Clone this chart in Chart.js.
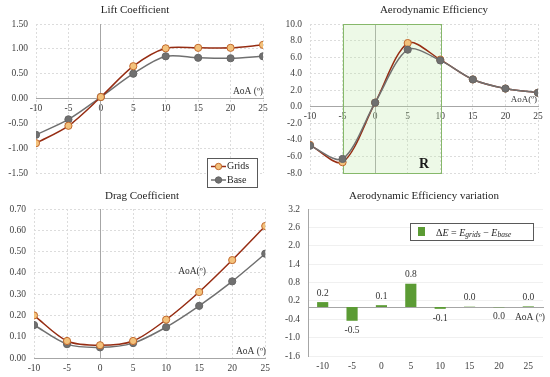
<!DOCTYPE html>
<html><head><meta charset="utf-8">
<script src="https://cdn.jsdelivr.net/npm/chart.js@4.4.1/dist/chart.umd.min.js"></script>
<style>
html,body{margin:0;padding:0;background:#fff;}
#wrap{position:relative;width:550px;height:377px;overflow:hidden;background:#fff;}
canvas{position:absolute;}
</style></head><body>
<div id="wrap">
<canvas id="c1" width="275" height="190" style="left:0;top:0"></canvas>
<canvas id="c2" width="275" height="190" style="left:275px;top:0"></canvas>
<canvas id="c3" width="275" height="187" style="left:0;top:190px"></canvas>
<canvas id="c4" width="275" height="187" style="left:275px;top:190px"></canvas>
</div>
<script>
// ---- data ----
const aoa = [-10, -5, 0, 5, 10, 15, 20, 25];
const aoaLabels = ['-10', '-5', '0', '5', '10', '15', '20', '25'];
const liftGrids = [-0.90, -0.55, 0.03, 0.65, 1.01, 1.02, 1.02, 1.08];
const liftBase  = [-0.73, -0.42, 0.03, 0.50, 0.85, 0.82, 0.81, 0.85];
const effGrids  = [-4.6, -6.7, 0.5, 7.7, 5.7, 3.3, 2.2, 1.7];
const effBase   = [-4.7, -6.3, 0.5, 6.9, 5.6, 3.3, 2.2, 1.7];
const dragGrids = [0.20, 0.08, 0.06, 0.08, 0.18, 0.31, 0.46, 0.62];
const dragBase  = [0.155, 0.065, 0.05, 0.07, 0.145, 0.245, 0.36, 0.49];
const deltaE    = [0.16, -0.45, 0.06, 0.76, -0.06, 0.01, -0.01, 0.02];
const regionR   = [-5, 10]; // shaded AoA range in efficiency chart

const SERIF = "'Liberation Serif','Times New Roman',serif";
Chart.defaults.font.family = SERIF;
Chart.defaults.font.size = 9.5;
Chart.defaults.color = '#404040';
Chart.defaults.animation = false;
Chart.defaults.responsive = false;
Chart.defaults.plugins.legend.display = false;
Chart.defaults.plugins.tooltip.enabled = false;

const GRID = '#dcdcdc';
const AXIS = '#a6a6a6';
const C_GRIDS_LINE = '#962c12';
const C_GRIDS_FILL = '#f3c27c';
const C_GRIDS_EDGE = '#c2682c';
const C_BASE = '#707070';

function texts(items) {
  return {
    id: 'texts',
    afterDraw(chart) {
      const ctx = chart.ctx;
      items.forEach(t => {
        ctx.save();
        ctx.font = t.font || `9.5px ${SERIF}`;
        ctx.fillStyle = t.color || '#333';
        ctx.textAlign = t.align || 'center';
        ctx.textBaseline = 'middle';
        ctx.fillText(t.text, t.x, t.y);
        ctx.restore();
      });
    }
  };
}
function title(text, x, y) {
  return {text, x, y, font: `11px ${SERIF}`, color: '#262626'};
}

function lineDS(label, ys, isGrids, order) {
  return {
    label,
    data: aoa.map((x, i) => ({x, y: ys[i]})),
    borderColor: isGrids ? C_GRIDS_LINE : C_BASE,
    borderWidth: 1.5,
    pointBackgroundColor: isGrids ? C_GRIDS_FILL : C_BASE,
    pointBorderColor: isGrids ? C_GRIDS_EDGE : '#666',
    pointBorderWidth: 1,
    pointRadius: 3.6,
    tension: 0.3,
    order
  };
}

function xLinear(pos, extra) {
  return Object.assign({
    type: 'linear', min: -10, max: 25, position: pos,
    ticks: {stepSize: 5, padding: 4, color: '#404040'},
    grid: {color: GRID, drawTicks: false},
    border: {color: AXIS, dash: [2, 2]}
  }, extra || {});
}
function yLinear(min, max, step, dec, width) {
  return {
    min, max,
    ticks: {stepSize: step, padding: 8, color: '#404040', callback: v => v.toFixed(dec)},
    grid: {color: GRID, drawTicks: false},
    border: {display: false, dash: [2, 2]},
    afterFit(s) { s.width = width; }
  };
}
function yZero(min, max) {
  return {axis: 'y', type: 'linear', min, max, position: {x: 0},
    ticks: {display: false}, grid: {display: false}, border: {color: AXIS}};
}

// ---- Panel 1: Lift ----
const legend1 = {
  id: 'legend1',
  afterDraw(chart) {
    const ctx = chart.ctx;
    ctx.save();
    ctx.fillStyle = '#fff';
    ctx.strokeStyle = '#595959';
    ctx.lineWidth = 1;
    ctx.fillRect(207, 158, 50, 29);
    ctx.strokeRect(207.5, 158.5, 50, 29);
    const rows = [
      {t: 'Grids', y: 166.5, line: C_GRIDS_LINE, fill: C_GRIDS_FILL, edge: C_GRIDS_EDGE},
      {t: 'Base', y: 180, line: C_BASE, fill: C_BASE, edge: '#666'}
    ];
    rows.forEach(r => {
      ctx.strokeStyle = r.line; ctx.lineWidth = 1.5;
      ctx.beginPath(); ctx.moveTo(211, r.y); ctx.lineTo(226, r.y); ctx.stroke();
      ctx.fillStyle = r.fill; ctx.strokeStyle = r.edge; ctx.lineWidth = 1;
      ctx.beginPath(); ctx.arc(218.5, r.y, 3.2, 0, Math.PI * 2); ctx.fill(); ctx.stroke();
      ctx.fillStyle = '#262626'; ctx.font = `10px ${SERIF}`;
      ctx.textAlign = 'left'; ctx.textBaseline = 'middle';
      ctx.fillText(r.t, 227, r.y);
    });
    ctx.restore();
  }
};
new Chart(document.getElementById('c1'), {
  type: 'line',
  data: {datasets: [lineDS('Grids', liftGrids, true, 0), lineDS('Base', liftBase, false, 1)]},
  options: {
    layout: {padding: {top: 24, right: 12, bottom: 17, left: 0}},
    scales: {
      x: xLinear({y: 0}),
      y: yLinear(-1.5, 1.5, 0.5, 2, 36),
      y0: yZero(-1.5, 1.5)
    }
  },
  plugins: [legend1, texts([
    title('Lift Coefficient', 135, 10),
    {text: 'AoA (º)', x: 263, y: 91, align: 'right'}
  ])]
});

// ---- Panel 2: Aerodynamic Efficiency ----
const regionPlugin = {
  id: 'region',
  beforeDatasetsDraw(chart) {
    const {ctx, scales: {x, y}} = chart;
    const l = x.getPixelForValue(regionR[0]), r = x.getPixelForValue(regionR[1]);
    const t = y.getPixelForValue(y.max), b = y.getPixelForValue(y.min);
    ctx.save();
    ctx.fillStyle = 'rgba(190,235,170,0.28)';
    ctx.fillRect(l, t, r - l, b - t);
    ctx.strokeStyle = '#86b86a';
    ctx.lineWidth = 1;
    ctx.strokeRect(Math.round(l) + 0.5, Math.round(t) + 0.5, Math.round(r - l), Math.round(b - t));
    ctx.restore();
  }
};
new Chart(document.getElementById('c2'), {
  type: 'line',
  data: {datasets: [lineDS('Grids', effGrids, true, 1), lineDS('Base', effBase, false, 0)]},
  options: {
    layout: {padding: {top: 24, right: 12, bottom: 17, left: 0}},
    scales: {
      x: xLinear({y: 0}),
      y: yLinear(-8, 10, 2, 1, 35),
      y0: yZero(-8, 10)
    }
  },
  plugins: [regionPlugin, texts([
    title('Aerodynamic Efficiency', 159, 10),
    {text: 'AoA(º)', x: 262, y: 100, align: 'right', font: `9px ${SERIF}`},
    {text: 'R', x: 149, y: 164, font: `bold 14px ${SERIF}`, color: '#1a1a1a'}
  ])]
});

// ---- Panel 3: Drag ----
new Chart(document.getElementById('c3'), {
  type: 'line',
  data: {datasets: [lineDS('Grids', dragGrids, true, 0), lineDS('Base', dragBase, false, 1)]},
  options: {
    layout: {padding: {top: 19, right: 9, bottom: 0, left: 0}},
    scales: {
      x: xLinear('bottom', {
        ticks: {stepSize: 5, padding: 5, color: '#404040'},
        afterFit(s) { s.height = 19; }
      }),
      y: yLinear(0, 0.7, 0.1, 2, 34),
      y0: yZero(0, 0.7)
    }
  },
  plugins: [texts([
    title('Drag Coefficient', 142, 6),
    {text: 'AoA(º)', x: 192, y: 81},
    {text: 'AoA (º)', x: 266, y: 161, align: 'right'}
  ])]
});

// ---- Panel 4: Efficiency variation ----
const barLabels = {
  id: 'barLabels',
  afterDatasetsDraw(chart) {
    const ctx = chart.ctx;
    const meta = chart.getDatasetMeta(0);
    ctx.save();
    ctx.font = `9.5px ${SERIF}`;
    ctx.fillStyle = '#333';
    ctx.textAlign = 'center';
    ctx.textBaseline = 'middle';
    meta.data.forEach((bar, i) => {
      const v = deltaE[i];
      let s = v.toFixed(1);
      if (s === '-0.0') s = '0.0';
      const yy = v >= 0 ? bar.y - 9 : bar.y + 9.5;
      ctx.fillText(s, bar.x, yy);
    });
    ctx.restore();
  }
};
const legend4 = {
  id: 'legend4',
  afterDraw(chart) {
    const ctx = chart.ctx;
    ctx.save();
    ctx.fillStyle = '#fff';
    ctx.fillRect(135, 33, 123, 17);
    ctx.strokeStyle = '#595959'; ctx.lineWidth = 1;
    ctx.strokeRect(135.5, 33.5, 123, 17);
    ctx.fillStyle = '#5b9b34';
    ctx.fillRect(143, 37, 7, 9);
    const base = 43;
    let x = 161;
    const parts = [
      {t: 'Δ', f: `10px ${SERIF}`, dy: 0},
      {t: 'E', f: `italic 10px ${SERIF}`, dy: 0},
      {t: ' = ', f: `10px ${SERIF}`, dy: 0},
      {t: 'E', f: `italic 10px ${SERIF}`, dy: 0},
      {t: 'grids', f: `italic 7.5px ${SERIF}`, dy: 2.5},
      {t: ' − ', f: `10px ${SERIF}`, dy: 0},
      {t: 'E', f: `italic 10px ${SERIF}`, dy: 0},
      {t: 'base', f: `italic 7.5px ${SERIF}`, dy: 2.5}
    ];
    ctx.fillStyle = '#262626';
    ctx.textAlign = 'left';
    ctx.textBaseline = 'middle';
    parts.forEach(p => {
      ctx.font = p.f;
      ctx.fillText(p.t, x, base + p.dy);
      x += ctx.measureText(p.t).width;
    });
    ctx.restore();
  }
};
new Chart(document.getElementById('c4'), {
  type: 'bar',
  data: {labels: aoaLabels, datasets: [{
    label: 'ΔE', data: deltaE, backgroundColor: '#5b9b34',
    barPercentage: 0.38, categoryPercentage: 1
  }]},
  options: {
    layout: {padding: {top: 19, right: 7, bottom: 0, left: 0}},
    scales: {
      x: {
        ticks: {padding: 5, color: '#404040'},
        grid: {display: false, drawTicks: false},
        border: {display: false},
        afterFit(s) { s.height = 21; }
      },
      y: {
        min: -1.6, max: 3.2,
        ticks: {stepSize: 0.6, padding: 8, color: '#404040', callback: v => v.toFixed(1)},
        grid: {color: '#f0f0f0', drawTicks: false},
        border: {color: AXIS},
        afterFit(s) { s.width = 33; }
      },
      x0: {axis: 'x', type: 'category', position: {y: 0},
        ticks: {display: false}, grid: {display: false}, border: {color: AXIS}}
    }
  },
  plugins: [barLabels, legend4, texts([
    title('Aerodynamic Efficiency variation', 149, 6),
    {text: 'AoA (º)', x: 270, y: 127, align: 'right'}
  ])]
});
</script>
</body></html>
